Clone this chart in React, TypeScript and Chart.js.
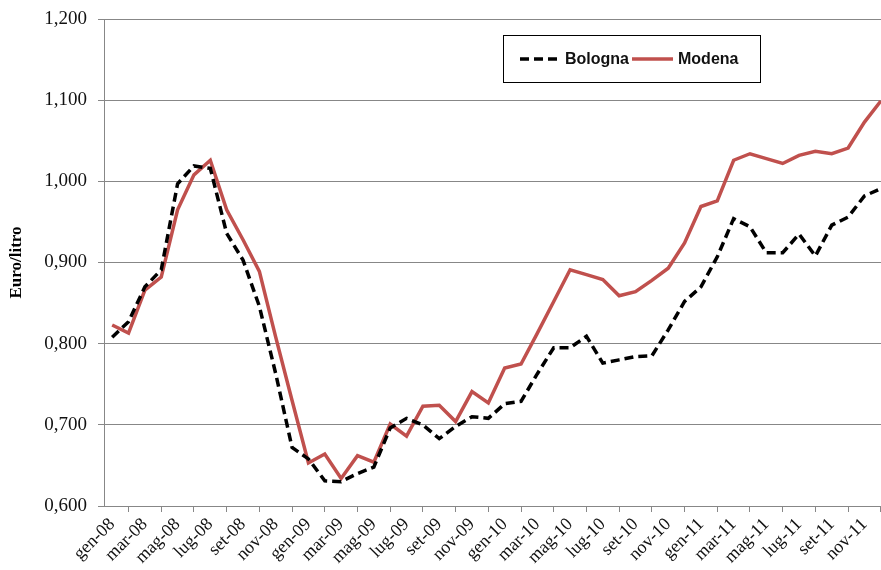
import React, { useEffect, useRef } from "react";
import { Chart, registerables } from "chart.js";

Chart.register(...registerables);

const categories = [
  "gen-08","feb-08","mar-08","apr-08","mag-08","giu-08","lug-08","ago-08","set-08","ott-08","nov-08","dic-08",
  "gen-09","feb-09","mar-09","apr-09","mag-09","giu-09","lug-09","ago-09","set-09","ott-09","nov-09","dic-09",
  "gen-10","feb-10","mar-10","apr-10","mag-10","giu-10","lug-10","ago-10","set-10","ott-10","nov-10","dic-10",
  "gen-11","feb-11","mar-11","apr-11","mag-11","giu-11","lug-11","ago-11","set-11","ott-11","nov-11","dic-11",
];

const bologna = [
  0.808, 0.827, 0.870, 0.891, 0.997, 1.019, 1.016, 0.936, 0.903, 0.846, 0.763, 0.672,
  0.658, 0.631, 0.630, 0.640, 0.648, 0.696, 0.708, 0.700, 0.683, 0.698, 0.710, 0.708,
  0.726, 0.729, 0.763, 0.795, 0.795, 0.809, 0.776, 0.780, 0.784, 0.785, 0.817, 0.852,
  0.870, 0.907, 0.954, 0.944, 0.912, 0.912, 0.935, 0.908, 0.946, 0.956, 0.982, 0.991,
];

const modena = [
  0.823, 0.813, 0.866, 0.882, 0.965, 1.008, 1.026, 0.965, 0.928, 0.889, 0.808, 0.730,
  0.653, 0.664, 0.634, 0.662, 0.654, 0.701, 0.686, 0.723, 0.724, 0.704, 0.741, 0.727,
  0.770, 0.775, 0.813, 0.852, 0.891, 0.885, 0.879, 0.859, 0.864, 0.878, 0.893, 0.924,
  0.969, 0.976, 1.026, 1.034, 1.028, 1.022, 1.032, 1.037, 1.034, 1.041, 1.073, 1.099,
];

const seriesNames = ["Bologna", "Modena"];
const yAxisTitle = "Euro/litro";
const yMin = 0.6;
const yMax = 1.2;
const yStep = 0.1;

const CANVAS_W = 890;
const CANVAS_H = 570;

const legendPlugin = {
  id: "boxLegend",
  afterDraw(chart: any) {
    const ctx = chart.ctx;
    ctx.save();
    ctx.strokeStyle = "#000";
    ctx.lineWidth = 1;
    ctx.strokeRect(503.5, 35.5, 257, 47);
    const items = [
      { x0: 520, x1: 560, tx: 565 },
      { x0: 632, x1: 673, tx: 678 },
    ];
    const cy = 59;
    chart.data.datasets.forEach((ds: any, i: number) => {
      const it = items[i];
      ctx.beginPath();
      ctx.strokeStyle = ds.borderColor;
      ctx.lineWidth = ds.borderWidth;
      ctx.setLineDash(ds.borderDash || []);
      ctx.moveTo(it.x0, cy);
      ctx.lineTo(it.x1, cy);
      ctx.stroke();
      ctx.setLineDash([]);
      ctx.fillStyle = "#111";
      ctx.font = "bold 16px 'Liberation Sans', Arial, sans-serif";
      ctx.textAlign = "left";
      ctx.textBaseline = "middle";
      ctx.fillText(ds.label, it.tx, cy + 1);
    });
    ctx.restore();
  },
};

export default function App() {
  const ref = useRef<HTMLCanvasElement | null>(null);

  useEffect(() => {
    if (!ref.current) return;
    const chart = new Chart(ref.current, {
      type: "line",
      data: {
        labels: categories,
        datasets: [
          {
            label: seriesNames[0],
            data: bologna,
            borderColor: "#000000",
            backgroundColor: "#000000",
            borderWidth: 3.5,
            borderDash: [9, 5],
            pointRadius: 0,
            tension: 0,
            fill: false,
          },
          {
            label: seriesNames[1],
            data: modena,
            borderColor: "#C0504D",
            backgroundColor: "#C0504D",
            borderWidth: 3.5,
            pointRadius: 0,
            tension: 0,
            fill: false,
          },
        ],
      },
      options: {
        animation: false,
        responsive: false,
        devicePixelRatio: 1,
        layout: { padding: { left: 0, right: 1, top: 19, bottom: 0 } },
        plugins: {
          legend: { display: false },
          tooltip: { enabled: false },
        },
        scales: {
          x: {
            type: "category",
            offset: true,
            border: { display: true, color: "#878787", width: 1 },
            grid: {
              offset: true,
              drawOnChartArea: false,
              drawTicks: true,
              tickLength: 6,
              color: "#878787",
            },
            ticks: {
              autoSkip: false,
              maxRotation: 45,
              minRotation: 45,
              padding: 2,
              color: "#111",
              font: { family: "'Liberation Serif', 'Times New Roman', serif", size: 18 },
              callback: (_v: any, i: number) => (i % 2 === 0 ? categories[i] : null),
            },
            afterFit: (s: any) => {
              s.height = CANVAS_H - 506;
              s.paddingLeft = 0;
              s.paddingRight = 0;
            },
          },
          y: {
            min: yMin,
            max: yMax,
            border: { display: true, color: "#878787", width: 1 },
            grid: {
              color: "#878787",
              lineWidth: 1,
              drawTicks: true,
              tickLength: 6,
            },
            ticks: {
              stepSize: yStep,
              padding: 11,
              color: "#111",
              font: { family: "'Liberation Serif', 'Times New Roman', serif", size: 19 },
              callback: (v: any) => Number(v).toFixed(3).replace(".", ","),
            },
            title: {
              display: true,
              text: yAxisTitle,
              color: "#000",
              padding: { top: 6, bottom: 0 },
              font: { family: "'Liberation Serif', 'Times New Roman', serif", size: 17, weight: "bold" },
            },
            afterFit: (s: any) => {
              s.width = 104;
              s.paddingTop = 0;
              s.paddingBottom = 0;
            },
          },
        },
      },
      plugins: [legendPlugin],
    });
    return () => chart.destroy();
  }, []);

  return (
    <div
      style={{
        position: "fixed",
        left: 0,
        top: 0,
        width: 881,
        height: 570,
        overflow: "hidden",
        background: "#fff",
      }}
    >
      <canvas ref={ref} width={CANVAS_W} height={CANVAS_H} style={{ display: "block" }} />
    </div>
  );
}
